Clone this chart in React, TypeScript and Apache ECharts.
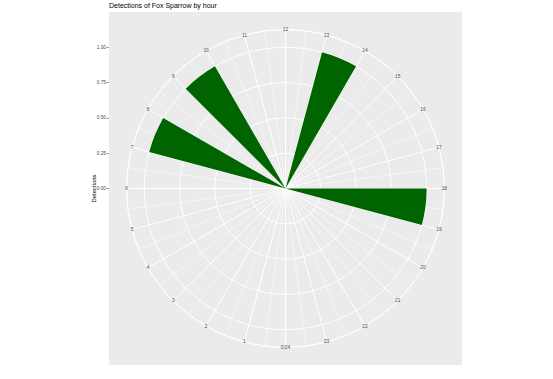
import React, { useEffect, useRef } from "react";
import * as echarts from "echarts";

// Data
const HOURS = [7, 9, 13, 18];
const DETECTIONS = [1, 1, 1, 1];
const BAR_WIDTH_HOURS = 1;
const HOUR_TICKS = [0, 1, 2, 3, 4, 5, 6, 7, 8, 9, 10, 11, 12, 13, 14, 15, 16, 17, 18, 19, 20, 21, 22, 23];
const HOUR_LABELS = ["0/24", "1", "2", "3", "4", "5", "6", "7", "8", "9", "10", "11", "12", "13", "14", "15", "16", "17", "18", "19", "20", "21", "22", "23"];
const R_TICKS = [0, 0.25, 0.5, 0.75, 1];
const R_OUTER = 1.125;

const FONT = "'Liberation Sans', Arial, Helvetica, sans-serif";

export default function App() {
  const ref = useRef<HTMLDivElement>(null);
  useEffect(() => {
    if (!ref.current) return;
    const chart = echarts.init(ref.current, undefined, { renderer: "svg" });
    const option: any = {
      animation: false,
      backgroundColor: "#ffffff",
      textStyle: { fontFamily: FONT },
      title: {
        text: "Detections of Fox Sparrow by hour",
        left: 109,
        top: 2,
        padding: 0,
        textStyle: { fontSize: 7, fontWeight: "normal", color: "#000000", fontFamily: FONT },
      },
      graphic: [
        {
          type: "text",
          x: 93.5,
          y: 188.5,
          rotation: Math.PI / 2,
          silent: true,
          style: {
            text: "Detections",
            fill: "#000000",
            fontSize: 5.9,
            fontFamily: FONT,
            align: "center",
            verticalAlign: "middle",
          },
        },
      ],
      grid: {
        left: 109,
        top: 12,
        width: 353,
        height: 353,
        show: true,
        backgroundColor: "#EBEBEB",
        borderWidth: 0,
        containLabel: false,
      },
      xAxis: { type: "value", show: false, min: 0, max: 1, axisLine: { onZero: false } },
      yAxis: {
        type: "value",
        min: -1.25,
        max: 1.25,
        interval: 0.25,
        position: "left",
        axisLine: { show: false, onZero: false },
        splitLine: { show: false },
        axisTick: { show: true, customValues: R_TICKS, length: 2.5, lineStyle: { color: "#333333", width: 0.5 } },
        axisLabel: {
          customValues: R_TICKS,
          formatter: (v: number) => v.toFixed(2),
          fontSize: 4.8,
          color: "#4D4D4D",
          margin: 3,
          fontFamily: FONT,
        },
      },
      polar: { center: [285.5, 188.5], radius: 158.8 },
      angleAxis: {
        type: "value",
        min: 0,
        max: 24,
        interval: 1,
        startAngle: 270,
        clockwise: true,
        axisLine: { show: true, lineStyle: { color: "#FFFFFF", width: 1 } },
        axisTick: { show: false },
        axisLabel: { show: false },
        splitLine: { show: true, lineStyle: { color: "#FFFFFF", width: 1 } },
        minorTick: { show: false, splitNumber: 2 },
        minorSplitLine: { show: true, lineStyle: { color: "#FFFFFF", width: 0.5 } },
      },
      radiusAxis: {
        type: "value",
        min: 0,
        max: R_OUTER,
        interval: 0.25,
        axisLine: { show: false },
        axisTick: { show: false },
        axisLabel: { show: false },
        splitLine: { show: true, lineStyle: { color: "#FFFFFF", width: 1 } },
      },
      series: [
        {
          type: "custom",
          coordinateSystem: "polar",
          data: HOURS.map((h, i) => [DETECTIONS[i], h]),
          encode: { radius: 0, angle: 1 },
          renderItem: (params: any, api: any) => {
            const v = api.value(0);
            const h = api.value(1);
            const c = api.coord([0, h]);
            const p1 = api.coord([v, h]);
            const p2 = api.coord([v, h + BAR_WIDTH_HOURS]);
            const r = Math.hypot(p1[0] - c[0], p1[1] - c[1]);
            const a1 = Math.atan2(p1[1] - c[1], p1[0] - c[0]);
            const a2 = Math.atan2(p2[1] - c[1], p2[0] - c[0]);
            return {
              type: "sector",
              shape: { cx: c[0], cy: c[1], r0: 0, r, startAngle: a1, endAngle: a2, clockwise: true },
              style: { fill: "#006400" },
            };
          },
          z: 3,
        },
        {
          type: "custom",
          coordinateSystem: "polar",
          silent: true,
          data: HOUR_TICKS.map((h) => [R_OUTER, h]),
          encode: { radius: 0, angle: 1 },
          renderItem: (params: any, api: any) => {
            const p = api.coord([api.value(0), api.value(1)]);
            return {
              type: "text",
              x: p[0],
              y: p[1],
              style: {
                text: HOUR_LABELS[params.dataIndex],
                fill: "#4D4D4D",
                fontSize: 4.8,
                fontFamily: FONT,
                align: "center",
                verticalAlign: "middle",
              },
            };
          },
          z: 4,
        },
      ],
    };
    chart.setOption(option);
    return () => chart.dispose();
  }, []);
  return (
    <div
      ref={ref}
      style={{ position: "fixed", left: 0, top: 0, width: 553, height: 379 }}
    />
  );
}
